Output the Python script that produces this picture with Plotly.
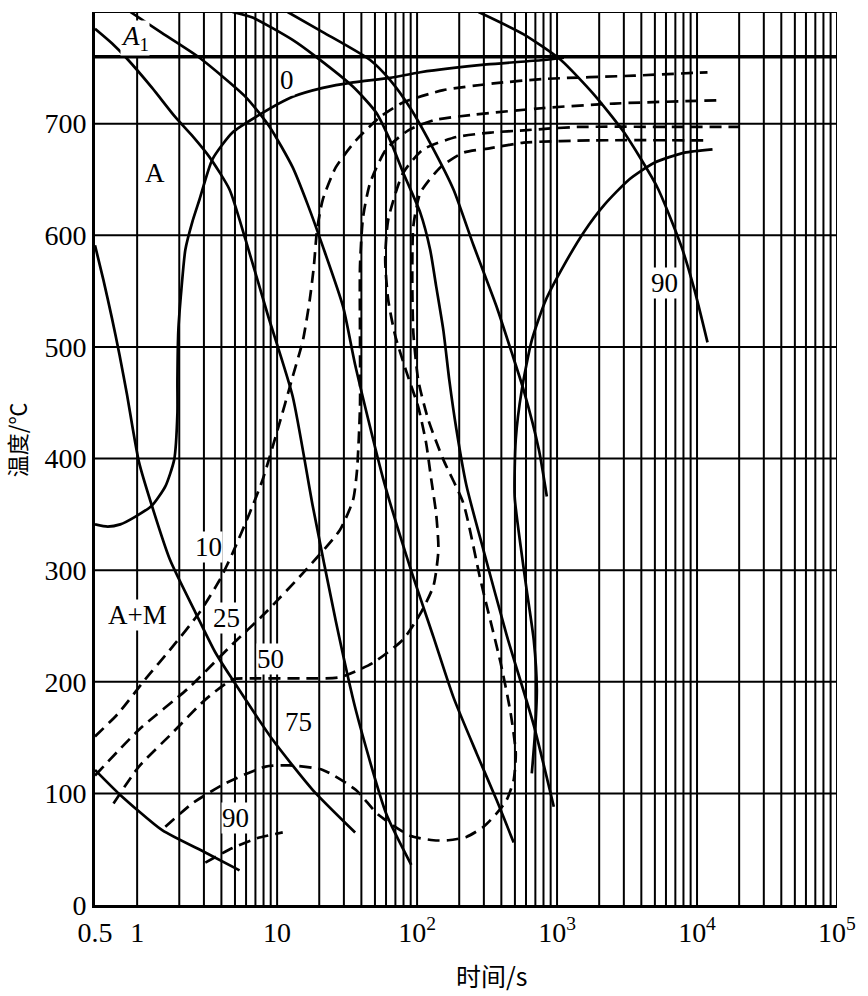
import numpy as np
import plotly.graph_objects as go

# ---------------- data (time in s, temperature in °C) ----------------
A1_TEMP = 760

# solid cooling curves
cool_p_t = [0.5, 0.66, 0.835, 1.28, 1.87, 2.48, 3.29, 4.57, 5.95, 8.56, 12.9, 18.0, 26.3, 36.6, 60.1, 90.9]
cool_p_T = [785, 772, 759, 732, 706, 689, 670, 641, 596, 529, 456, 357, 254, 174, 82, 36]

cool_q_t = [0.895, 1.51, 2.79, 5.95, 8.85, 12.9, 16.6, 21.2, 29.6, 36.1, 57.2, 89.4, 131, 182, 266, 370, 490]
cool_q_T = [800, 781, 759, 724, 697, 661, 627, 590, 536, 484, 382, 302, 240, 186, 136, 94, 56]

cool_r_t = [4.80, 6.68, 12.9, 18.9, 34.9, 51.0, 64.2, 79.6, 105.5, 124, 137, 154, 170, 191, 225, 298, 436, 682, 948]
cool_r_T = [800, 795, 775, 760, 733, 710, 685, 656, 620, 587, 554, 515, 470, 426, 376, 318, 242, 161, 88]

cool_s_t = [11.9, 21.2, 46.2, 64.2, 89.4, 126, 182, 253, 370, 474, 578, 741, 845]
cool_s_T = [800, 782, 757, 739, 714, 681, 641, 591, 536, 495, 461, 408, 366]

cool_u_t = [275, 578, 1065, 1837, 3015, 5200, 7730, 9590, 11880]
cool_u_T = [800, 780, 757, 726, 692, 643, 590, 551, 504]

cool_l0_t = [0.5, 0.574, 0.66, 0.748, 0.847, 0.933, 1.03, 1.28, 1.72, 2.61, 3.63, 4.80, 9.30, 18.0, 36.1]
cool_l0_T = [591, 560, 526, 493, 457, 426, 397, 357, 309, 262, 226, 202, 148, 103, 65]

cool_low_t = [0.5, 0.737, 1.51, 3.07, 5.39]
cool_low_T = [121, 100, 67, 47, 31]

# transformation-start curve ("0")
start_t = [0.5, 0.616, 0.758, 0.973, 1.28, 1.59, 1.84, 1.94, 1.94, 1.97, 2.07, 2.21, 2.48, 2.79,
           3.45, 4.80, 7.50, 12.9, 21.2, 34.9, 64.2, 105.5, 314, 804, 1119]
start_T = [341, 339, 341, 348, 358, 375, 399, 441, 470, 515, 551, 587, 612, 632,
           668, 692, 708, 724, 732, 737, 741, 746, 753, 757, 759]

# 90 % solid C-curve
c90_t = [12900, 8128, 4950, 3275, 2168, 1557, 1119, 831, 660, 559, 507, 498, 550, 607, 682, 717, 693, 660]
c90_T = [677, 674, 665, 650, 627, 603, 573, 542, 506, 461, 417, 366, 321, 282, 237, 193, 151, 118]

# dashed iso-fraction curves
d10_t = [0.5, 0.737, 1.14, 1.78, 2.79, 3.88, 4.80, 6.36, 7.88, 10.1, 12.9, 15.3, 17.1, 18.3,
         19.3, 21.2, 26.3, 36.6, 54.5, 79.6, 154, 352, 804, 3555, 11880]
d10_T = [151, 172, 202, 231, 262, 291, 315, 351, 381, 426, 473, 506, 542, 572,
         605, 632, 661, 685, 706, 719, 730, 736, 740, 743, 746]

d25_t = [0.5, 1.03, 2.36, 4.57, 8.28, 16.0, 28.1, 34.9, 37.2, 39.1, 39.1, 39.1, 41.1, 46.2,
         60.1, 86.5, 131, 253, 804, 2555, 14970]
d25_T = [116, 157, 195, 231, 262, 300, 336, 363, 389, 446, 510, 572, 616, 647,
         677, 694, 703, 708, 714, 718, 721]

d50_t = [0.678, 1.03, 1.78, 3.07, 4.80, 6.68, 16.0, 28.1, 48.5, 79.6, 105.5, 131, 142, 137, 126,
         116, 102, 83.7, 69.8, 62.2, 59.2, 62.2, 79.6, 111, 191, 335, 578, 1387, 9572, 20150]
d50_T = [91, 124, 154, 184, 202, 203, 203, 204, 217, 238, 261, 286, 318, 350, 382,
         414, 446, 478, 510, 542, 578, 614, 656, 677, 688, 692, 694, 697, 697, 697]

d75_t = [1.59, 2.48, 4.28, 8.28, 12.3, 21.2, 36.6, 52.7, 89.4, 131, 167, 225, 298, 370, 436, 490,
         507, 466, 395, 284, 214, 154, 120, 102, 94, 92.4, 94, 105.5, 147, 214, 335, 578, 1837, 11880]
d75_T = [70, 91, 109, 124, 125, 121, 103, 81, 62, 58, 58, 61, 70, 82, 94, 112,
         136, 172, 217, 291, 360, 399, 435, 470, 513, 560, 608, 638, 661, 674, 678, 683, 685, 685]

d90_t = [3.07, 4.80, 7.26, 10.97]
d90_T = [38, 51, 60, 65]

# labels: (text, time, temperature)
labels = [
    ("<i>A</i><sub>1</sub>", 0.97, 777),
    ("0", 11.8, 739),
    ("A", 1.35, 656),
    ("90", 5830, 557),
    ("10", 3.25, 321),
    ("A+M", 1.0, 260),
    ("25", 4.35, 257),
    ("50", 9.0, 220),
    ("75", 14.3, 164),
    ("90", 5.05, 78),
]

x_tick_vals = [0.5, 1, 10, 100, 1000, 10000, 100000]
x_tick_text = ["0.5", "1", "10", "10<sup>2</sup>", "10<sup>3</sup>", "10<sup>4</sup>", "10<sup>5</sup>"]
y_tick_vals = [0, 100, 200, 300, 400, 500, 600, 700, 800]
x_title = "时间/s"
y_title = "温度/℃"

SERIF = "Liberation Serif, Times New Roman, DejaVu Serif, serif"
CJK = "Noto Sans CJK SC, Liberation Serif, serif"

# ---------------- figure ----------------
fig = go.Figure()

# grid (log minor grid + horizontal grid)
gx, gy = [], []
for k in range(0, 5):
    for m in range(1, 10):
        v = m * 10 ** k
        gx += [v, v, None]
        gy += [0, 800, None]
gx += [100000, 100000, None]
gy += [0, 800, None]
fig.add_trace(go.Scatter(x=gx, y=gy, mode="lines", line=dict(color="black", width=2),
                         hoverinfo="skip", showlegend=False))
hx, hy = [], []
for v in y_tick_vals[1:]:
    hx += [0.5, 100000, None]
    hy += [v, v, None]
fig.add_trace(go.Scatter(x=hx, y=hy, mode="lines", line=dict(color="black", width=2),
                         hoverinfo="skip", showlegend=False))

# A1 line
fig.add_trace(go.Scatter(x=[0.5, 100000], y=[A1_TEMP, A1_TEMP], mode="lines",
                         line=dict(color="black", width=3.5), showlegend=False))

solid = [(cool_p_t, cool_p_T), (cool_q_t, cool_q_T), (cool_r_t, cool_r_T), (cool_s_t, cool_s_T),
         (cool_u_t, cool_u_T), (cool_l0_t, cool_l0_T), (cool_low_t, cool_low_T),
         (start_t, start_T), (c90_t, c90_T)]
for t, T in solid:
    fig.add_trace(go.Scatter(x=t, y=T, mode="lines",
                             line=dict(color="black", width=2.7, shape="spline", smoothing=0.6),
                             showlegend=False))

dashed = [(d10_t, d10_T), (d25_t, d25_T), (d50_t, d50_T), (d75_t, d75_T), (d90_t, d90_T)]
for t, T in dashed:
    fig.add_trace(go.Scatter(x=t, y=T, mode="lines",
                             line=dict(color="black", width=2.7, dash="12px,7px", shape="spline", smoothing=0.6),
                             showlegend=False))

for text, t, T in labels:
    fig.add_annotation(x=np.log10(t), y=T, text=text, showarrow=False, xref="x", yref="y",
                       font=dict(family=SERIF, size=27, color="black"),
                       bgcolor="white", borderpad=0)

# axis titles
fig.add_annotation(x=0.535, y=-0.078, xref="paper", yref="paper", text=x_title, showarrow=False,
                   font=dict(family=CJK, size=25, color="black"), xanchor="center", yanchor="middle")
fig.add_annotation(x=-0.107, y=417, xref="paper", yref="y", text=y_title, showarrow=False, textangle=-90,
                   font=dict(family=CJK, size=22, color="black"), xanchor="center", yanchor="middle")

fig.update_xaxes(type="log", range=[np.log10(0.5), 5], tickvals=x_tick_vals, ticktext=x_tick_text,
                 showgrid=False, zeroline=False, showline=True, linecolor="black", linewidth=3,
                 ticks="", tickfont=dict(family=SERIF, size=28, color="black"))
fig.update_yaxes(range=[0, 800], tickvals=y_tick_vals, showgrid=False, zeroline=False,
                 showline=True, linecolor="black", linewidth=3, ticks="",
                 tickfont=dict(family=SERIF, size=28, color="black"))

fig.update_layout(width=868, height=996, margin=dict(l=95, r=26, t=12, b=91),
                  paper_bgcolor="white", plot_bgcolor="white", showlegend=False)

fig.write_html("out.html")
